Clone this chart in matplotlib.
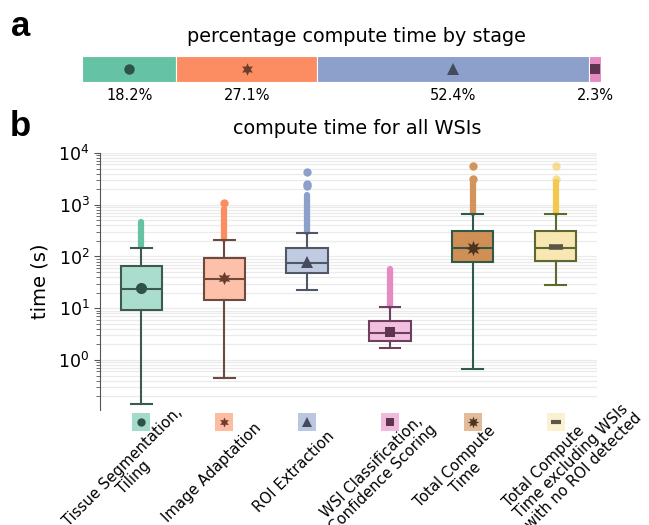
import numpy as np
import matplotlib
matplotlib.use("Agg")
import matplotlib.pyplot as plt
import matplotlib.transforms as mtransforms
from matplotlib.colors import to_rgb

# panel a: share of compute time per stage (%)
stages = ["Tissue Segmentation, Tiling", "Image Adaptation", "ROI Extraction",
          "WSI Classification, Confidence Scoring"]
stage_pct = [18.2, 27.1, 52.4, 2.3]

# panel b: box statistics (seconds)
labels = ["Tissue Segmentation,\nTiling", "Image Adaptation", "ROI Extraction",
          "WSI Classification,\nConfidence Scoring", "Total Compute\nTime",
          "Total Compute\nTime excluding WSIs\nwith no ROI detected"]
q1 = [9.3, 14.3, 47.5, 2.3, 77.5, 81]
med = [23.6, 36.4, 74, 3.37, 145, 148]
q3 = [66.7, 95, 145, 5.75, 317, 317]
whislo = [0.14, 0.455, 22.6, 1.68, 0.67, 28.3]
whishi = [149, 209, 282, 10.7, 670, 670]
means = [24.3, 38, 78, 3.5, 148, 153]
# dense run of outliers above the upper whisker (top value)
flier_top = [460, 820, 1550, 57, 2700, 2700]
# isolated outliers
flier_extra = [[], [1070], [2330, 2500, 4200], [], [3150, 5500], [3150, 5500]]

colors = ["#66c2a5", "#fc8d62", "#8da0cb", "#e78ac3", "#cf8f55", "#f8e6b3"]
edge_colors = ["#3b5b50", "#6c4a40", "#505868", "#6e4060", "#2f5a48", "#5a6a30"]
flier_colors = ["#66c2a5", "#fc8d62", "#8da0cb", "#e78ac3", "#d4935a", "#f2c94c"]
mark_colors = ["#2f5248", "#6b3d2c", "#454b5c", "#5d3550", "#4a3420", "#5a5546"]
markers = ["o", (6, 1, 0), "^", "s", (8, 1, 0), "_"]
msizes = [10, 12, 11, 9, 14, 13]
box_alpha = [0.55, 0.55, 0.55, 0.55, 1.0, 1.0]
# label layout tweaks (inches) and line alignment
lab_dx = [0, 0, 0, 0, 0, 0.30]
lab_dy = [0, 0, 0, 0, 0, 0.12]
lab_align = ["center", "center", "center", "center", "center", "left"]


def lighten(c, a):
    r = np.array(to_rgb(c))
    return tuple(1 - a * (1 - r))


plt.rcParams["font.family"] = "DejaVu Sans"
fig = plt.figure(figsize=(6.49, 5.25), dpi=100)

# ---- panel a
ax_a = fig.add_axes([82 / 649, 1 - 82 / 525, 519 / 649, 26 / 525])
left = 0
for i, p in enumerate(stage_pct):
    ax_a.barh(0, p, left=left, height=1, color=colors[i], edgecolor="white", lw=0.8)
    ax_a.plot(left + p / 2, 0, marker=markers[i], color=mark_colors[i], ms=msizes[i] * 0.75,
              mew=0, ls="none")
    ax_a.text(left + p / 2, -1.0, f"{p}%", ha="center", va="center", fontsize=10.5)
    left += p
ax_a.set_xlim(0, sum(stage_pct))
ax_a.set_ylim(-0.5, 0.5)
ax_a.axis("off")
fig.text(356 / 649, 1 - 37 / 525, "percentage compute time by stage", ha="center",
         va="center", fontsize=13.9)
fig.text(11 / 649, 1 - 27 / 525, "a", fontsize=25, fontweight="bold",
         family="Liberation Sans", va="center")

# ---- panel b
ax = fig.add_axes([100 / 649, 1 - 410 / 525, 497 / 649, 257 / 525])
pos = np.arange(len(labels))
stats = []
for i in range(len(labels)):
    stats.append(dict(med=med[i], q1=q1[i], q3=q3[i], whislo=whislo[i],
                      whishi=whishi[i], fliers=[]))
bp = ax.bxp(stats, positions=pos, widths=0.5, patch_artist=True, showfliers=False)
for i in range(len(labels)):
    bp["boxes"][i].set_facecolor(lighten(colors[i], box_alpha[i]))
    bp["boxes"][i].set_edgecolor(edge_colors[i])
    bp["boxes"][i].set_linewidth(1.5)
    bp["medians"][i].set_color(edge_colors[i])
    bp["medians"][i].set_linewidth(1.5)
    for ln in bp["whiskers"][2 * i:2 * i + 2] + bp["caps"][2 * i:2 * i + 2]:
        ln.set_color(edge_colors[i])
        ln.set_linewidth(1.5)

# outliers
for i in range(len(labels)):
    ax.vlines(pos[i], whishi[i] * 1.05, flier_top[i], color=flier_colors[i], lw=4.5,
              capstyle="round", zorder=1.5)
    if flier_extra[i]:
        ax.plot([pos[i]] * len(flier_extra[i]), flier_extra[i], "o", color=flier_colors[i],
                ms=6, mew=0, alpha=0.6 if i == 5 else 1, zorder=1.5)
    mew = 4 if markers[i] == "_" else 0
    ax.plot(pos[i], means[i], marker=markers[i], color=mark_colors[i], ms=msizes[i] * 0.8,
            mew=mew, ls="none", zorder=4)

ax.set_yscale("log")
ax.set_ylim(0.108, 1.0e4)
ax.set_xlim(-0.5, len(labels) - 0.5)
ax.yaxis.grid(True, which="both", color="#ebebeb", lw=0.9)
ax.set_axisbelow(True)
for s in ["top", "right", "bottom"]:
    ax.spines[s].set_visible(False)
ax.spines["left"].set_color("#555555")
ax.tick_params(axis="y", which="major", length=4, color="#555555", labelsize=12.5)
ax.tick_params(axis="y", which="minor", length=3, color="#555555")
ax.tick_params(axis="x", length=0, pad=44)
ax.set_yticks([1, 10, 100, 1000, 10000])
ax.set_ylabel("time (s)", fontsize=14, labelpad=6)

ax.set_xticks(pos)
ax.set_xticklabels(labels, rotation=45, ha="center", va="center_baseline",
                   rotation_mode="anchor", fontsize=10.7, linespacing=1.05)
for i, t in enumerate(ax.get_xticklabels()):
    t.set_multialignment(lab_align[i])
    offset = mtransforms.ScaledTranslation(-0.14 + lab_dx[i], lab_dy[i], fig.dpi_scale_trans)
    t.set_transform(t.get_transform() + offset)

# icons under the axis
trans = mtransforms.blended_transform_factory(ax.transData, ax.transAxes)
for i in range(len(labels)):
    ax.plot(pos[i], -0.047, "s", ms=12.5, mew=0, color=lighten(colors[i], 0.6),
            transform=trans, clip_on=False)
    mew = 3 if markers[i] == "_" else 0
    ax.plot(pos[i], -0.047, marker=markers[i], color=mark_colors[i], ms=msizes[i] * 0.6,
            mew=mew, ls="none", transform=trans, clip_on=False)

fig.text(357 / 649, 1 - 128 / 525, "compute time for all WSIs", ha="center", va="center",
         fontsize=13.9)
fig.text(10 / 649, 1 - 127 / 525, "b", fontsize=25, fontweight="bold",
         family="Liberation Sans", va="center")

fig.savefig("out.png", dpi=100)
